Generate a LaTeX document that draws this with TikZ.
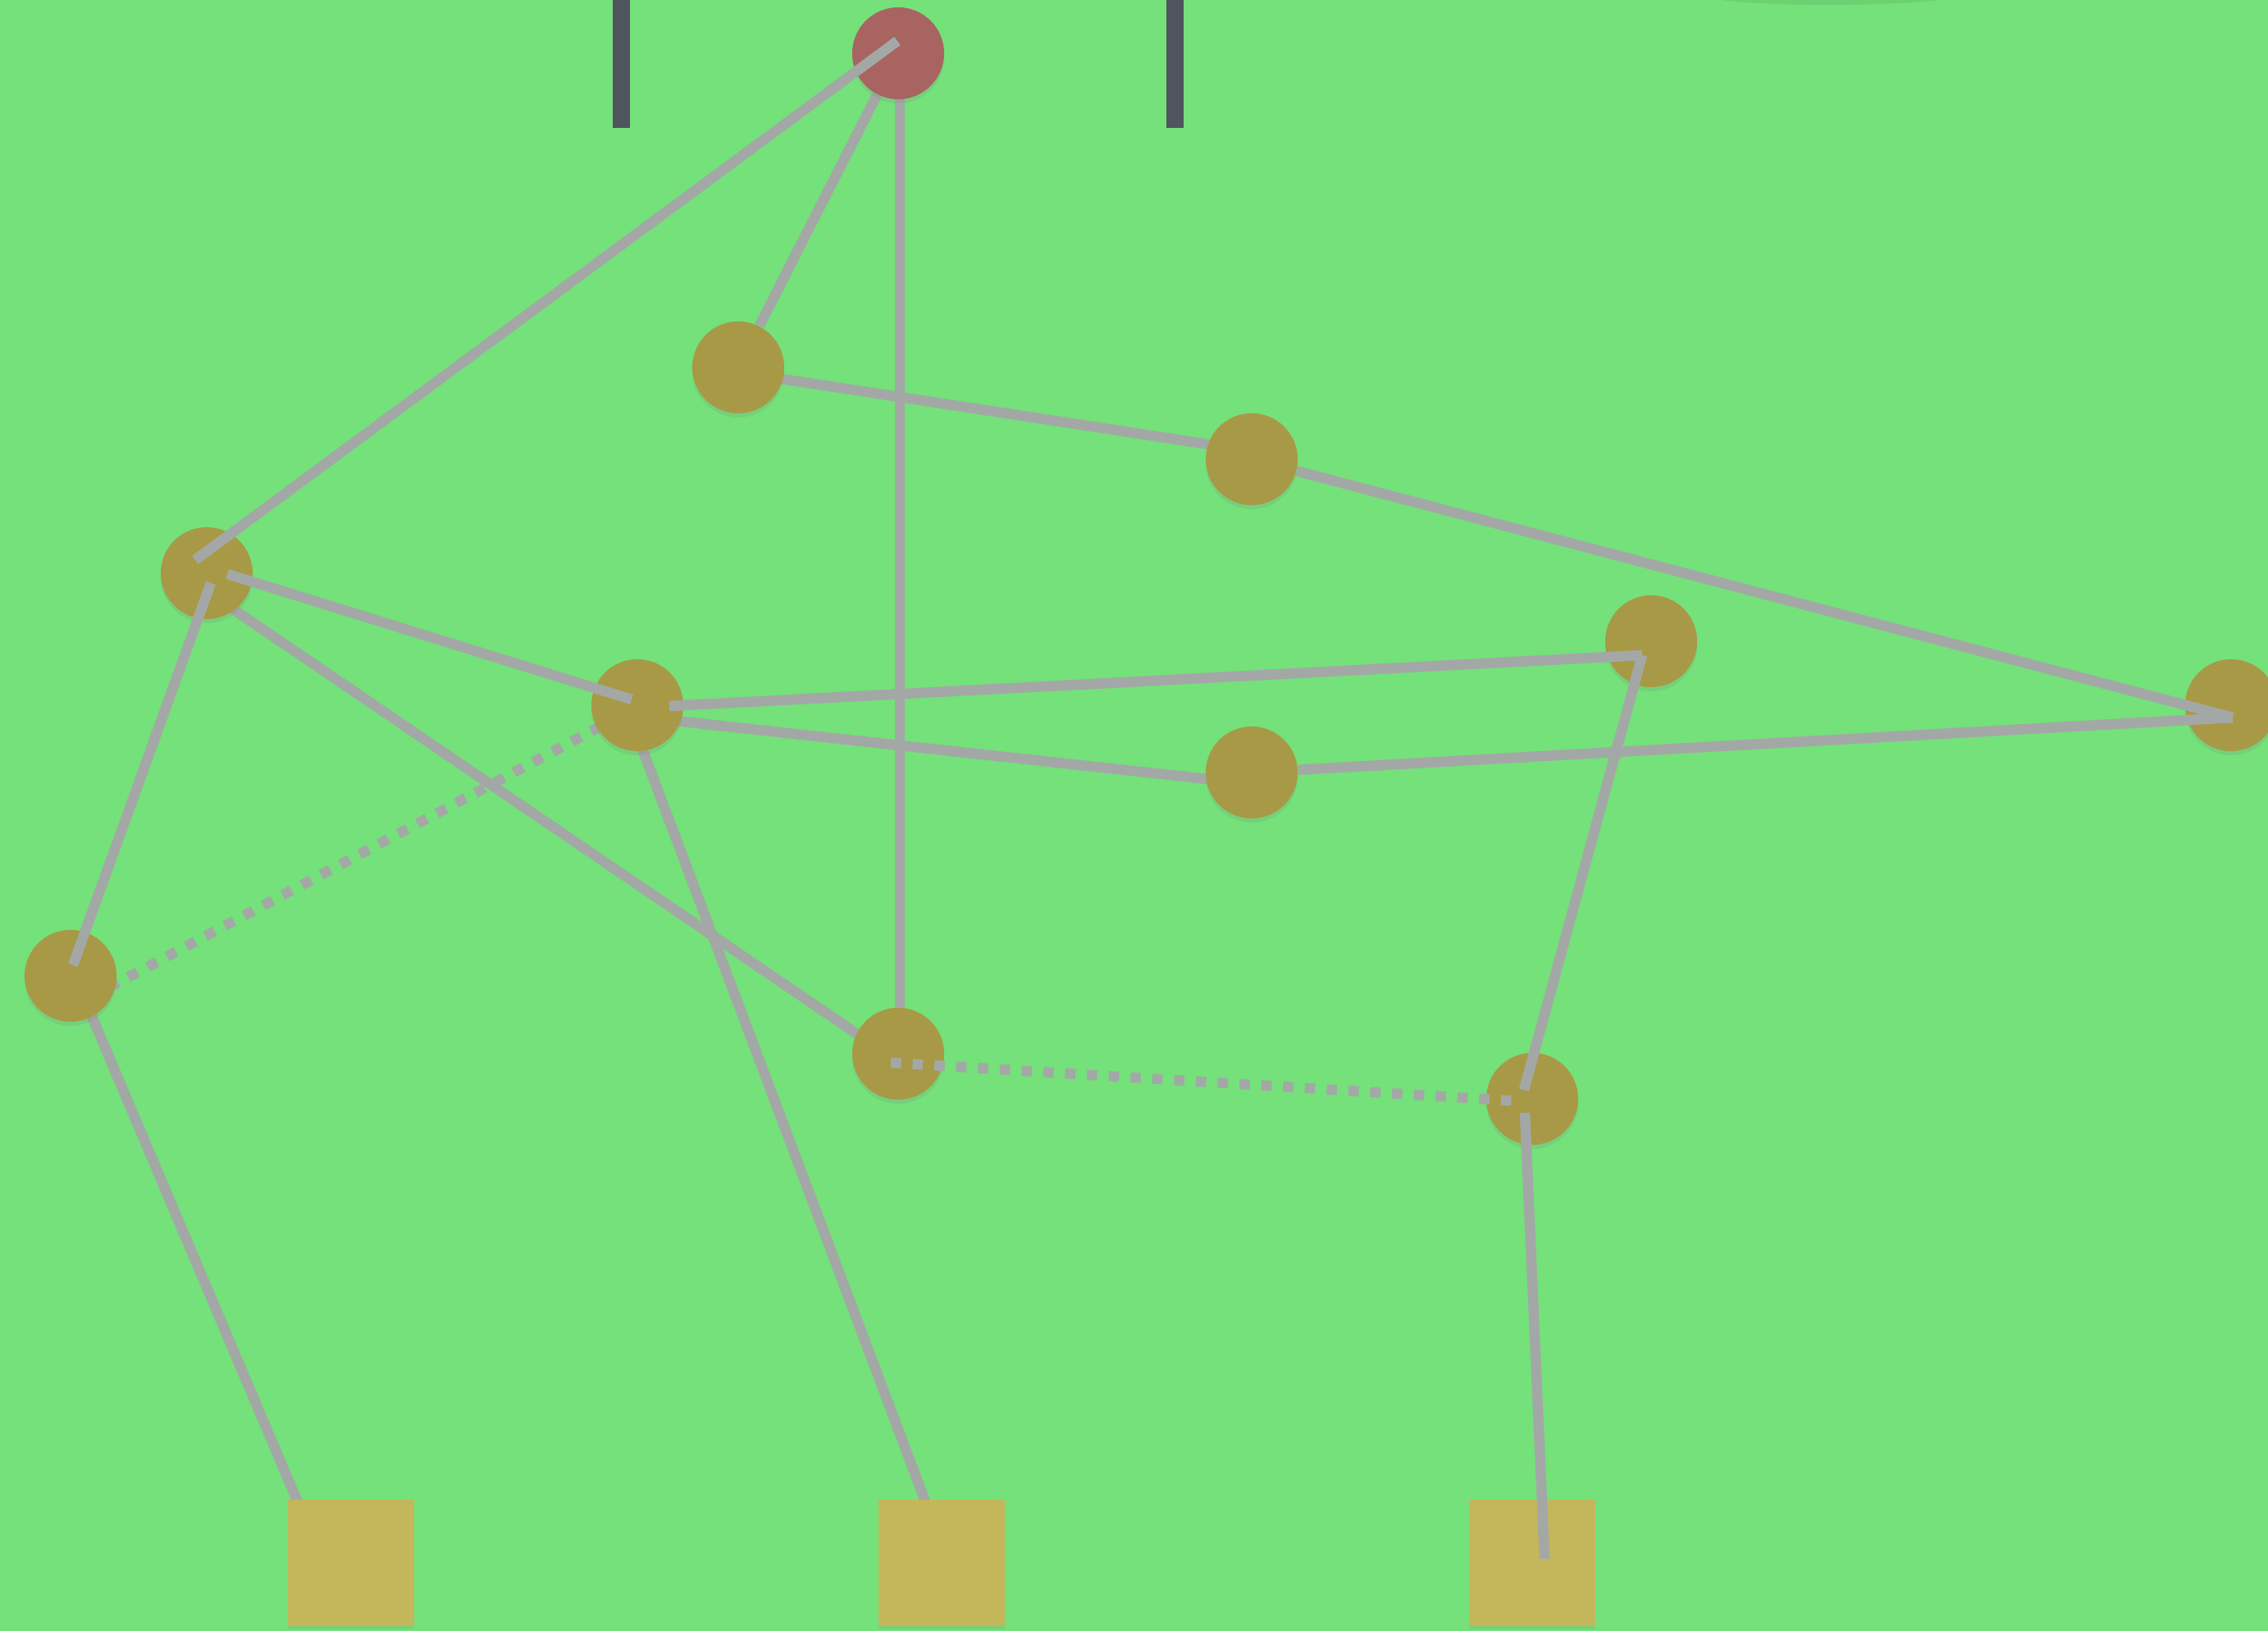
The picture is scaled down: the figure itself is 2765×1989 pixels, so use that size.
\documentclass[tikz,border=0pt]{standalone}
\usepackage{tikz}
\usetikzlibrary{backgrounds,shadows,calc}

\definecolor{turf}{RGB}{116,225,122}
\definecolor{ball}{RGB}{168,153,70}
\definecolor{redball}{RGB}{168,100,96}
\definecolor{block}{RGB}{196,182,90}
\definecolor{rod}{RGB}{163,168,166}
\definecolor{post}{RGB}{80,84,92}

\begin{document}
\begin{tikzpicture}[x=0.01cm, y=-0.01cm,
  joint/.style={circle, fill=ball, minimum size=1.12cm, inner sep=0pt,
    drop shadow={shadow xshift=0cm, shadow yshift=-0.05cm, opacity=0.18}},
  foot/.style={rectangle, fill=block, minimum size=1.54cm, inner sep=0pt,
    drop shadow={shadow xshift=0cm, shadow yshift=-0.04cm, opacity=0.15}},
  link/.style={draw=rod, line width=0.125cm},
  spring/.style={link, dash pattern=on 0.126cm off 0.14cm}]
\useasboundingbox (0,0) rectangle (2765,1989);
% posts
\fill[post] (747,0) rectangle (768,156);
\fill[post] (1422,0) rectangle (1443,156);
% joints
\node[joint, fill=redball] (hub) at (1095,65) {};
\node[joint] (ja) at (900,448) {};
\node[joint] (jb) at (1526,560) {};
\node[joint] (jc) at (252,699) {};
\node[joint] (jd) at (777,860) {};
\node[joint] (je) at (2013,782) {};
\node[joint] (jf) at (2720,860) {};
\node[joint] (jg) at (1526,942) {};
\node[joint] (jh) at (86,1190) {};
\node[joint] (ji) at (1095,1285) {};
\node[joint] (jj) at (1868,1340) {};
% feet
\node[foot] (fa) at (428,1906) {};
\node[foot] (fb) at (1148,1906) {};
\node[foot] (fc) at (1868,1906) {};
\begin{scope}[on background layer]
  \fill[turf] (0,0) rectangle (2765,1989);
  \fill[black, opacity=0.07] (2231,-10) ellipse [x radius=170, y radius=16];
  \draw[link] (hub) -- (ja);
  \draw[link] ($(hub)+(2,0)$) -- ($(ji)+(2,0)$);
  \draw[link] ($(ja)+(0,6)$) -- ($(jb)+(0,-10)$);
  \draw[link] ($(jc)+(0,22)$) -- ($(ji)+(0,10)$);
  \draw[link] ($(jd)+(0,14)$) -- ($(jg)+(0,14)$);
  \draw[link] ($(jd)+(-14,0)$) -- ($(fb)+(-3,-30)$);
  \draw[link] ($(jh)+(5,0)$) -- ($(fa)+(-48,-34)$);
  \draw[spring] ($(jh)+(0,39)$) -- ($(jd)+(0,2)$);
\end{scope}
\draw[link] (jb) -- ($(jf)+(2,15)$);
\draw[link] (jg) -- ($(jf)+(2,15)$);
\draw[link] ($(hub)+(-1,-15)$) -- ($(jc)+(-14,-16)$);
\draw[link] ($(jc)+(25,1)$) -- ($(jd)+(-7,-7)$);
\draw[link] ($(jc)+(5,12)$) -- ($(jh)+(3,-13)$);
\draw[link] ($(jd)+(39,1)$) -- ($(je)+(-11,17)$);
\draw[link] ($(je)+(-11,17)$) -- ($(jj)+(-10,-11)$);
\draw[link] ($(jj)+(-9,17)$) -- ($(fc)+(15,-5)$);
\draw[spring] ($(ji)+(-9,11)$) -- ($(jj)+(-14,3)$);
\end{tikzpicture}
\end{document}
